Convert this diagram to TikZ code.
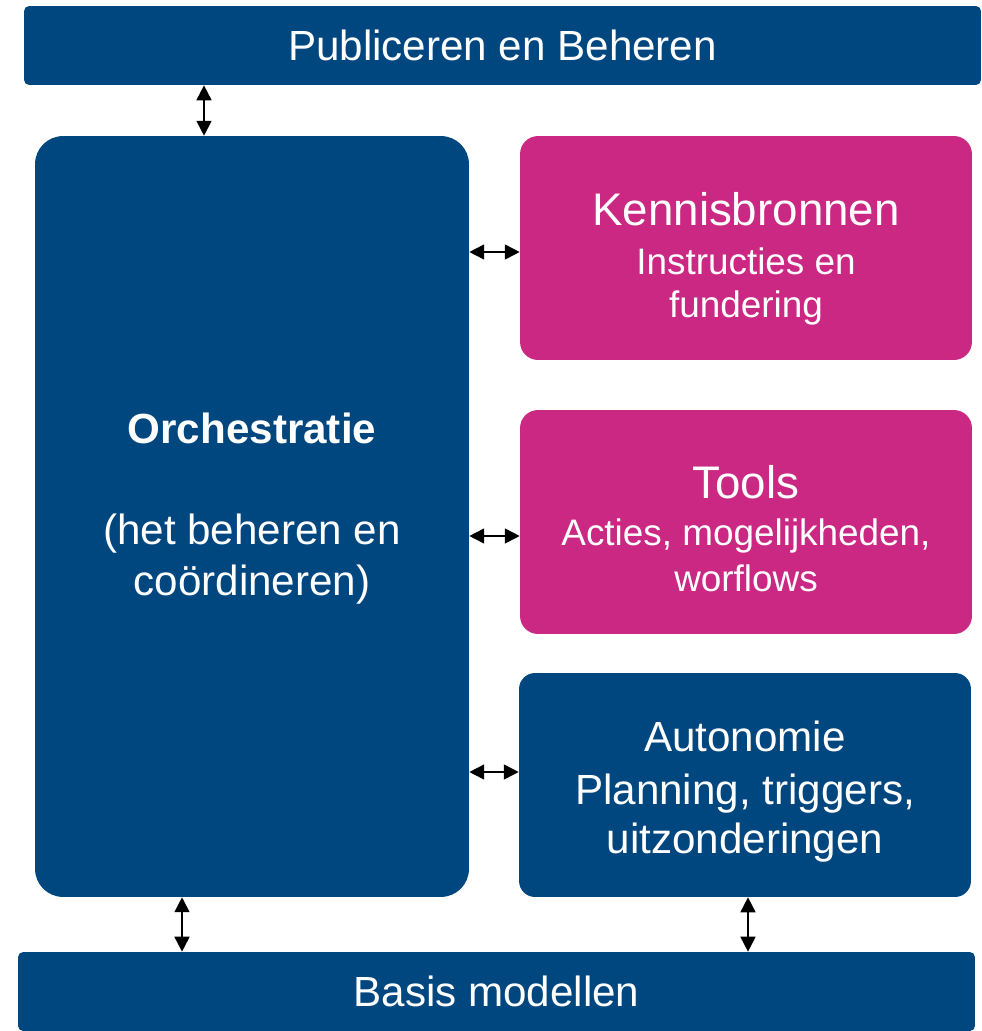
\documentclass[tikz,border=0pt]{standalone}
\usepackage{fontspec}
\setmainfont{Liberation Sans}
\usetikzlibrary{arrows.meta}
\definecolor{orchblue}{HTML}{00467F}
\definecolor{kennispink}{HTML}{CA2882}

\begin{document}
\begin{tikzpicture}[x=0.02cm, y=-0.02cm, every node/.style={align=center, text=white, inner sep=0pt},
  bar/.style={rectangle, fill=orchblue, rounded corners=0.1cm, minimum width=19.14cm, minimum height=1.58cm, font=\fontsize{24}{29}\selectfont},
  pinkbox/.style={rectangle, fill=kennispink, rounded corners=0.36cm, minimum width=9.04cm, minimum height=4.48cm, font=\fontsize{21}{25}\selectfont},
  link/.style={{Triangle[width=8.5pt,length=8.5pt]}-{Triangle[width=8.5pt,length=8.5pt]}, line width=1pt, black}]
\useasboundingbox (0,0) rectangle (982,1031);
% Draw the layers as boxes
\node[bar] (publish) at (502.5,45.5) {Publiceren en Beheren};
\node[rectangle, fill=orchblue, rounded corners=0.56cm, minimum width=8.68cm, minimum height=15.22cm, font=\fontsize{24}{29}\selectfont] (orch) at (252,516.5) {\textbf{Orchestratie}\\[29pt](het beheren en\\coördineren)\rule[-14pt]{0pt}{0pt}};
\node[pinkbox] (kennis) at (746,248) {\rule{0pt}{31pt}{\fontsize{26}{31}\selectfont Kennisbronnen}\\[3pt]Instructies en\\[-1pt]fundering};
\node[pinkbox] (tools) at (746,522) {\rule{0pt}{26pt}{\fontsize{26}{31}\selectfont Tools}\\[2pt]Acties, mogelijkheden,\\[1pt]worflows};
\node[rectangle, fill=orchblue, rounded corners=0.32cm, minimum width=9.04cm, minimum height=4.48cm, font=\fontsize{24}{29}\selectfont] (auto) at (745,785) {\rule{0pt}{25pt}Autonomie\\[1pt]Planning, triggers,\\[-1pt]uitzonderingen};
\node[bar] (basis) at (496.5,991.5) {Basis modellen};

% Draw arrows
\draw[link] ([xshift=-0.96cm]orch.north |- publish.south) -- ([xshift=-0.96cm]orch.north);
\draw[link] ([yshift=-0.08cm]orch.east |- kennis.west) -- ([yshift=-0.08cm]kennis.west);
\draw[link] ([yshift=-0.28cm]orch.east |- tools.west) -- ([yshift=-0.28cm]tools.west);
\draw[link] ([yshift=0.26cm]orch.east |- auto.west) -- ([yshift=0.26cm]auto.west);
\draw[link] ([xshift=-1.4cm]orch.south) -- ([xshift=-1.4cm]orch.south |- basis.north);
\draw[link] ([xshift=0.06cm]auto.south) -- ([xshift=0.06cm]auto.south |- basis.north);
\end{tikzpicture}
\end{document}
